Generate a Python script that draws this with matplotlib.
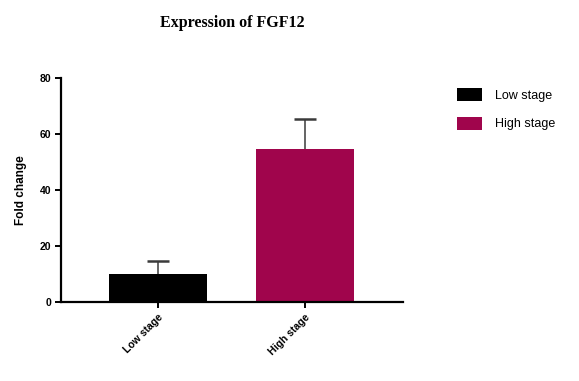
import numpy as np
import matplotlib.pyplot as plt

plt.rcParams['font.family'] = ['Liberation Sans', 'DejaVu Sans']

# data
groups = ['Low stage', 'High stage']
fold_change = [10.0, 54.5]
err_up = [4.6, 11.0]
colors = ['#000000', '#A0054C']

fig = plt.figure(figsize=(5.79, 3.81), dpi=100)
ax = fig.add_axes([61/579, 1-302/381, (403-61)/579, (302-78)/381])

x = np.arange(len(groups))
bars = ax.bar(x, fold_change, width=0.667, color=colors, label=groups, zorder=2)
eb = ax.errorbar(x, fold_change, yerr=[np.zeros(len(x)), err_up], fmt='none',
                 ecolor='#3a3a3a', elinewidth=1.1, capsize=8, capthick=1.8, zorder=1)
# hide the lower caps (one-sided error bars)
for cap in eb[1]:
    if np.allclose(cap.get_ydata(), fold_change):
        cap.set_visible(False)

ax.set_xlim(-0.66, 1.67)
ax.set_ylim(0, 80)
ax.set_yticks([0, 20, 40, 60, 80])
ax.set_xticks(x)
ax.set_xticklabels(groups, rotation=45, ha='right', rotation_mode='anchor',
                   fontsize=7.5, fontweight='bold')
for lab in ax.get_yticklabels():
    lab.set_fontsize(7.5)
    lab.set_fontweight('bold')

ax.spines['right'].set_color('none')
ax.spines['top'].set_color('none')
ax.spines['left'].set_linewidth(1.6)
ax.spines['bottom'].set_linewidth(1.6)
ax.tick_params(direction='out', length=4, width=1.4, pad=3)
ax.set_ylabel('Fold change', fontsize=8.5, fontweight='bold', labelpad=9)

ax.set_title('Expression of FGF12', fontsize=11.5, fontweight='bold',
             family='Liberation Serif', pad=36.5)

fig.legend(handles=bars.patches, labels=groups, loc='upper left',
           bbox_to_anchor=(446/579, 1-77/381), frameon=False, fontsize=9,
           handlelength=2.0, handleheight=1.2, labelspacing=1.2, handletextpad=1.0)

plt.savefig('out.png', dpi=100)
